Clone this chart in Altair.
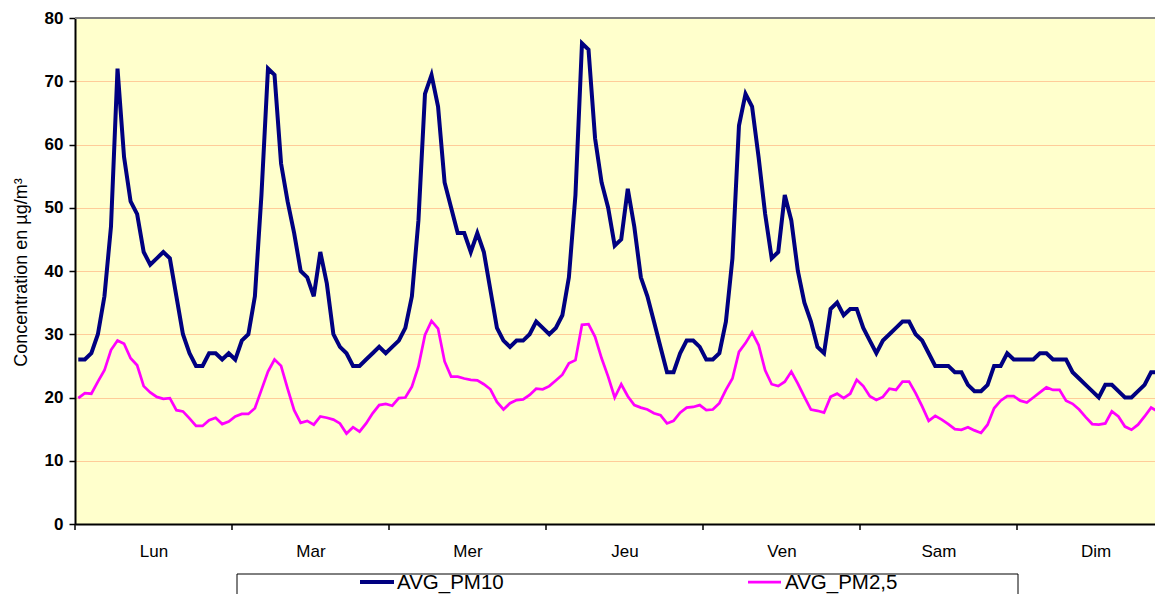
import altair as alt
import pandas as pd

days = ["Lun", "Mar", "Mer", "Jeu", "Ven", "Sam", "Dim"]
series_names = ["AVG_PM10", "AVG_PM2,5"]
y_ticks = [0, 10, 20, 30, 40, 50, 60, 70, 80]

pm10 = [
    26, 26, 27, 30, 36, 47, 72, 58, 51, 49, 43, 41, 42, 43, 42, 36, 30, 27, 25, 25, 27, 27, 26, 27,
    26, 29, 30, 36, 52, 72, 71, 57, 51, 46, 40, 39, 36, 43, 38, 30, 28, 27, 25, 25, 26, 27, 28, 27,
    28, 29, 31, 36, 48, 68, 71, 66, 54, 50, 46, 46, 43, 46, 43, 37, 31, 29, 28, 29, 29, 30, 32, 31,
    30, 31, 33, 39, 52, 76, 75, 61, 54, 50, 44, 45, 53, 47, 39, 36, 32, 28, 24, 24, 27, 29, 29, 28,
    26, 26, 27, 32, 42, 63, 68, 66, 58, 49, 42, 43, 52, 48, 40, 35, 32, 28, 27, 34, 35, 33, 34, 34,
    31, 29, 27, 29, 30, 31, 32, 32, 30, 29, 27, 25, 25, 25, 24, 24, 22, 21, 21, 22, 25, 25, 27, 26,
    26, 26, 26, 27, 27, 26, 26, 26, 24, 23, 22, 21, 20, 22, 22, 21, 20, 20, 21, 22, 24, 24, 24, 24,
]

pm25 = [
    19.9, 20.7, 20.6, 22.5, 24.3, 27.5, 29.0, 28.5, 26.2, 25.1, 21.8, 20.8, 20.1, 19.8, 19.9, 18.0, 17.8, 16.7, 15.5, 15.5, 16.4, 16.8, 15.8, 16.2,
    17.0, 17.4, 17.4, 18.3, 21.2, 24.1, 26.0, 25.0, 21.4, 18.0, 16.0, 16.3, 15.7, 17.0, 16.8, 16.5, 15.9, 14.3, 15.3, 14.6, 15.9, 17.5, 18.8, 19.0,
    18.7, 19.9, 20.0, 21.7, 24.9, 29.9, 32.1, 30.9, 25.7, 23.3, 23.3, 23.0, 22.8, 22.7, 22.1, 21.3, 19.3, 18.1, 19.1, 19.6, 19.7, 20.4, 21.4, 21.3,
    21.8, 22.7, 23.6, 25.4, 25.9, 31.5, 31.6, 29.6, 26.2, 23.3, 20.0, 22.1, 20.2, 18.8, 18.4, 18.1, 17.5, 17.2, 15.9, 16.3, 17.6, 18.4, 18.5, 18.8,
    18.0, 18.1, 19.1, 21.2, 23.0, 27.2, 28.6, 30.3, 28.3, 24.3, 22.1, 21.8, 22.5, 24.1, 22.2, 20.1, 18.1, 17.9, 17.6, 20.1, 20.6, 19.9, 20.6, 22.8,
    21.8, 20.2, 19.6, 20.1, 21.4, 21.2, 22.5, 22.5, 20.7, 18.6, 16.3, 17.1, 16.5, 15.8, 15.0, 14.9, 15.3, 14.8, 14.4, 15.7, 18.3, 19.5, 20.2, 20.2,
    19.5, 19.2, 20.0, 20.8, 21.6, 21.2, 21.2, 19.5, 19.0, 18.1, 16.9, 15.8, 15.7, 15.9, 17.8, 17.0, 15.4, 14.9, 15.7, 17.0, 18.4, 17.8, 17.6, 17.4,
]

FONT = "Liberation Sans"
PLOT_W = 1080          # visible plot width (chart is cut at the right edge)
FULL_W = 1099          # width the full week would take
PLOT_H = 506
n_hours = len(pm10)
x_max = n_hours * PLOT_W / FULL_W

df = pd.DataFrame({
    "hour": [h + 0.5 for h in range(n_hours)] * 2,
    "value": pm10 + pm25,
    "series": [series_names[0]] * n_hours + [series_names[1]] * n_hours,
})

day_expr = "[" + ",".join("'%s'" % d for d in days) + "][floor(datum.value / 24)]"
x_scale = alt.Scale(domain=[0, x_max], nice=False, zero=False)
y_scale = alt.Scale(domain=[0, 80], nice=False)

x_enc = alt.X(
    "hour:Q",
    scale=x_scale,
    axis=alt.Axis(
        values=[24 * i + 12 for i in range(len(days))],
        labelExpr=day_expr,
        title=None,
        grid=False,
        ticks=False,
        labelFlush=False,
        labelOverlap=False,
        labelBound=False,
        labelAlign="center",
        labelPadding=19,
        labelFontSize=17,
        labelFont=FONT,
        labelColor="black",
        domainColor="black",
        domainWidth=2,
    ),
)

y_enc = alt.Y(
    "value:Q",
    scale=y_scale,
    axis=alt.Axis(
        values=y_ticks,
        title="Concentration en µg/m³",
        titleFont=FONT,
        titleFontSize=18,
        titleFontWeight="normal",
        titleColor="black",
        titleX=-54,
        titleY=254,
        titleAlign="center",
        titleBaseline="middle",
        labelFlush=False,
        labelFont=FONT,
        labelFontSize=17,
        labelFontWeight="bold",
        labelColor="black",
        labelPadding=6,
        tickSize=6,
        tickColor="black",
        tickWidth=1.5,
        domainColor="black",
        domainWidth=2,
        grid=True,
        gridColor="#FFCC99",
        gridWidth=1,
    ),
)

base = alt.Chart(df)

line25 = base.transform_filter(alt.datum.series == series_names[1]).mark_line(
    color="#FF00FF", strokeWidth=2.75, clip=True
).encode(x=x_enc, y=y_enc)

line10 = base.transform_filter(alt.datum.series == series_names[0]).mark_line(
    color="#000080", strokeWidth=4, clip=True
).encode(x=x_enc, y=y_enc)

# day-boundary ticks on the category axis
day_bounds = pd.DataFrame({"hour": [24 * i for i in range(len(days))]})
day_ticks = alt.Chart(day_bounds).mark_rule(color="black", strokeWidth=1.5).encode(
    x=x_enc,
    y=alt.value(PLOT_H),
    y2=alt.value(PLOT_H + 6),
)

top_border = alt.Chart(pd.DataFrame({"k": [0]})).mark_rule(
    color="#808080", strokeWidth=2
).encode(x=alt.value(0), x2=alt.value(PLOT_W), y=alt.value(0))

legend_df = pd.DataFrame({"series": series_names})
LEG_TOP = 556
LEG_MID = 564

legend_box = alt.Chart(pd.DataFrame({"k": [0]})).mark_rect(
    fill="white", stroke="black", strokeWidth=1
).encode(x=alt.value(162), x2=alt.value(943), y=alt.value(LEG_TOP), y2=alt.value(620))

leg_sym10 = alt.Chart(pd.DataFrame({"k": [0]})).mark_rule(
    color="#000080", strokeWidth=4
).encode(x=alt.value(285), x2=alt.value(319), y=alt.value(LEG_MID))

leg_sym25 = alt.Chart(pd.DataFrame({"k": [0]})).mark_rule(
    color="#FF00FF", strokeWidth=2.75
).encode(x=alt.value(673), x2=alt.value(706), y=alt.value(LEG_MID))

leg_txt10 = alt.Chart(legend_df).transform_filter(
    alt.datum.series == series_names[0]
).mark_text(
    font=FONT, fontSize=20.5, align="left", baseline="middle", color="black"
).encode(x=alt.value(322), y=alt.value(LEG_MID + 1), text="series:N")

leg_txt25 = alt.Chart(legend_df).transform_filter(
    alt.datum.series == series_names[1]
).mark_text(
    font=FONT, fontSize=20.5, align="left", baseline="middle", color="black"
).encode(x=alt.value(710), y=alt.value(LEG_MID + 1), text="series:N")

chart = alt.layer(
    top_border, line25, line10, day_ticks, legend_box, leg_sym10, leg_sym25, leg_txt10, leg_txt25
).properties(
    width=PLOT_W,
    height=PLOT_H,
    autosize=alt.AutoSizeParams(type="none"),
    padding={"left": 67, "top": 10, "right": 0, "bottom": 70},
    background="white",
).configure_view(
    fill="#FFFFCC", stroke=None
)

chart.save("out.html", embed_options={"renderer": "svg", "actions": False})
